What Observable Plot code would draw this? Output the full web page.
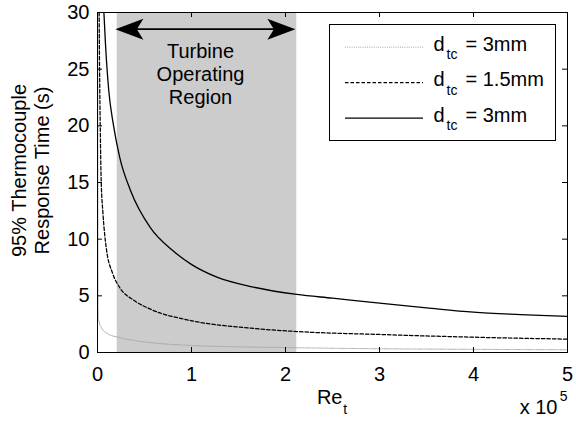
<!DOCTYPE html>
<html>
<head>
<meta charset="utf-8">
<script src="https://cdn.jsdelivr.net/npm/d3@7"></script>
<script src="https://cdn.jsdelivr.net/npm/@observablehq/plot@0.6"></script>
<style>
  html, body { margin: 0; padding: 0; background: #fff; }
  #chart { width: 576px; height: 432px; }
</style>
</head>
<body>
<div id="chart"></div>
<script>
// ---- data (Re_t in units of 1e5, time in s) ----
const dottedX = [0.003, 0.007, 0.012, 0.039, 0.11, 0.216, 0.39, 0.59, 1.0, 2.12, 3.0, 4.0, 5.0];
const dottedY = [31, 4.0, 2.9, 2.24, 1.65, 1.35, 1.06, 0.85, 0.62, 0.42, 0.33, 0.28, 0.24];

const dashedX = [0.017, 0.022, 0.03, 0.039, 0.058, 0.092, 0.163, 0.234, 0.39, 0.57, 0.99, 1.63, 2.12, 3.0, 4.0, 5.0];
const dashedY = [30.5, 25, 19.5, 15.2, 12.3, 9.3, 6.94, 5.76, 4.59, 3.8, 2.82, 2.15, 1.85, 1.59, 1.35, 1.18];

const solidX = [0.067, 0.085, 0.12, 0.167, 0.237, 0.351, 0.564, 0.8, 0.99, 1.27, 1.63, 2.12, 2.5, 3.0, 3.5, 4.0, 4.5, 5.0];
const solidY = [30.2, 27.2, 23.1, 20.2, 17.2, 14.3, 11.0, 9.0, 7.82, 6.65, 5.82, 5.12, 4.79, 4.35, 3.94, 3.56, 3.35, 3.18];

const seriesLabels = ["3mm", "1.5mm", "3mm"];
const xTicks = [0, 1, 2, 3, 4, 5];
const yTicks = [0, 5, 10, 15, 20, 25, 30];
const regionBounds = [0.21, 2.12];
const arrowBounds = [0.19, 2.105];
const arrowLevel = 28.53;
const regionText = ["Turbine", "Operating", "Region"];
const yLabelLines = ["95% Thermocouple", "Response Time (s)"];

// ---- layout ----
const W = 576, H = 432, mL = 97, mR = 9, mT = 12, mB = 80;
const plotW = W - mL - mR, plotH = H - mT - mB;
const xMax = 5, yMax = 30;
const xAt = px => (px - mL) / plotW * xMax;      // pixel -> data (annotation placement)
const yAt = py => (H - mB - py) / plotH * yMax;
const tickLenX = 5 / plotW * xMax, tickLenY = 5 / plotH * yMax;
const FONT = "'Liberation Sans', Arial, Helvetica, sans-serif";

const zip = (xs, ys) => xs.map((x, i) => ({x, y: ys[i]}));
const series = [
  {data: zip(dottedX, dottedY), stroke: "#a4a4a4", dash: "1,1.2", width: 1},
  {data: zip(dashedX, dashedY), stroke: "#000", dash: "3.5,2", width: 1.25},
  {data: zip(solidX, solidY), stroke: "#000", dash: null, width: 1.3}
];

const headLeft = {draw(ctx) { ctx.moveTo(0, 0); ctx.lineTo(28, -10.5); ctx.lineTo(21.5, 0); ctx.lineTo(28, 10.5); ctx.closePath(); }};
const headRight = {draw(ctx) { ctx.moveTo(0, 0); ctx.lineTo(-28, -10.5); ctx.lineTo(-21.5, 0); ctx.lineTo(-28, 10.5); ctx.closePath(); }};

const rowY = i => 46.7 + i * 35.5;   // legend row centre (px)

const marks = [
  // shaded operating region
  Plot.rect([regionBounds], {x1: d => d[0], x2: d => d[1], y1: 0, y2: yMax, fill: "#cccccc"}),
  // curves
  ...series.map(s => Plot.line(s.data, {x: "x", y: "y", curve: "monotone-x", stroke: s.stroke,
      strokeWidth: s.width, strokeDasharray: s.dash, clip: true})),
  // double arrow
  Plot.ruleY([arrowLevel], {x1: arrowBounds[0] + 0.1, x2: arrowBounds[1] - 0.1, stroke: "#000", strokeWidth: 1.6}),
  Plot.dot([arrowBounds[0]], {x: d => d, y: arrowLevel, symbol: headLeft, fill: "#000", stroke: "none"}),
  Plot.dot([arrowBounds[1]], {x: d => d, y: arrowLevel, symbol: headRight, fill: "#000", stroke: "none"}),
  Plot.text([regionText.join("\n")], {x: xAt(200), y: yAt(40.7), lineAnchor: "top", lineHeight: 1.165,
      textAnchor: "middle", fontSize: 20, fill: "#000"}),
  // legend box
  Plot.frame({insetLeft: 329 - mL, insetRight: W - mR - 555, insetTop: 24 - mT, insetBottom: H - mB - 140,
      fill: "#fff", stroke: "#000", strokeWidth: 1}),
  ...series.map((s, i) => Plot.ruleY([yAt(rowY(i))], {x1: xAt(345), x2: xAt(423), stroke: s.stroke,
      strokeWidth: s.width, strokeDasharray: s.dash})),
  Plot.text(seriesLabels, {x: xAt(433), y: (d, i) => yAt(rowY(i)), text: () => "d", textAnchor: "start",
      dy: -3.1, fontSize: 20, fill: "#000"}),
  Plot.text(seriesLabels, {x: xAt(446), y: (d, i) => yAt(rowY(i)), text: () => "tc", textAnchor: "start",
      dy: 7.8, fontSize: 14, fill: "#000"}),
  Plot.text(seriesLabels, {x: xAt(465), y: (d, i) => yAt(rowY(i)), text: d => "= " + d, textAnchor: "start",
      dy: -3.1, fontSize: 20, fill: "#000"}),
  // inward ticks on all four sides
  Plot.ruleX(xTicks, {x: d => d, y1: 0, y2: tickLenY, stroke: "#000"}),
  Plot.ruleX(xTicks, {x: d => d, y1: yMax - tickLenY, y2: yMax, stroke: "#000"}),
  Plot.ruleY(yTicks, {y: d => d, x1: 0, x2: tickLenX, stroke: "#000"}),
  Plot.ruleY(yTicks, {y: d => d, x1: xMax - tickLenX, x2: xMax, stroke: "#000"}),
  Plot.frame({stroke: "#000", strokeWidth: 1}),
  // tick labels
  Plot.axisX(xTicks, {tickSize: 0, tickPadding: 14, fontSize: 20, label: null, fill: "#000"}),
  Plot.axisY(yTicks, {tickSize: 0, tickPadding: 8, fontSize: 20, label: null, fill: "#000"}),
  // axis titles
  Plot.text(["Re"], {frameAnchor: "bottom", textAnchor: "end", dx: 10, dy: 51.6, fontSize: 20, fill: "#000"}),
  Plot.text(["t"], {frameAnchor: "bottom", textAnchor: "start", dx: 10.8, dy: 61.5, fontSize: 14, fill: "#000"}),
  Plot.text(["x 10"], {frameAnchor: "bottom-right", textAnchor: "end", dx: -10, dy: 61.6, fontSize: 20, fill: "#000"}),
  Plot.text(["5"], {frameAnchor: "bottom-right", textAnchor: "end", dx: 0, dy: 48.5, fontSize: 14, fill: "#000"}),
  Plot.text([yLabelLines.join("\n")], {frameAnchor: "left", rotate: -90, textAnchor: "middle",
      lineHeight: 1.125, dx: -67.15, dy: -12, fontSize: 20, fill: "#000"})
];

const chart = Plot.plot({
  width: W, height: H,
  marginLeft: mL, marginRight: mR, marginTop: mT, marginBottom: mB,
  x: {domain: [0, xMax], label: null},
  y: {domain: [0, yMax], label: null},
  style: {fontFamily: FONT, fontSize: "20px", background: "#fff", color: "#000", overflow: "visible"},
  marks
});
document.getElementById("chart").appendChild(chart);
</script>
</body>
</html>
